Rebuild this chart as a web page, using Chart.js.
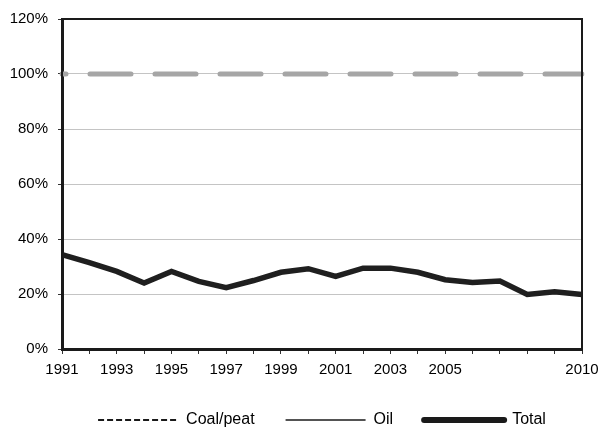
<!DOCTYPE html>
<html>
<head>
<meta charset="utf-8">
<script src="https://cdn.jsdelivr.net/npm/chart.js@4"></script>
<style>
    html, body { margin: 0; padding: 0; background: #fff; }
    #wrap { width: 599px; height: 433px; }
</style>
</head>
<body>
<div id="wrap"><canvas id="lineChart"></canvas></div>
<script>
// Dados
const years = [1991, 1992, 1993, 1994, 1995, 1996, 1997, 1998, 1999, 2000,
               2001, 2002, 2003, 2004, 2005, 2006, 2007, 2008, 2009, 2010];
const labelledYears = [1991, 1993, 1995, 1997, 1999, 2001, 2003, 2005, 2010];
const coalPeat = [100, 100, 100, 100, 100, 100, 100, 100, 100, 100,
                  100, 100, 100, 100, 100, 100, 100, 100, 100, 100];
const oil = [0, 0, 0, 0, 0, 0, 0, 0, 0, 0,
             0, 0, 0, 0, 0, 0, 0, 0, 0, 0];
const total = [34.3, 31.4, 28.2, 24.0, 28.2, 24.6, 22.3, 24.9, 27.9, 29.2,
               26.4, 29.4, 29.4, 27.9, 25.2, 24.2, 24.7, 19.8, 20.8, 19.8];
const yMax = 120;
const yStep = 20;

const font = { family: 'Arial, "Liberation Sans", sans-serif', size: 15 };
const legendFont = { family: 'Arial, "Liberation Sans", sans-serif', size: 16 };

// moldura superior/direita
const frame = {
    id: 'frame',
    afterDatasetsDraw(chart) {
        const { ctx, chartArea: a } = chart;
        ctx.save();
        ctx.strokeStyle = '#1a1a1a';
        ctx.lineWidth = 2;
        ctx.strokeRect(a.left, a.top, a.right - a.left, a.bottom - a.top);
        ctx.restore();
    }
};

// aparência da legenda (amostras pretas)
const legendStyle = [
    { lineWidth: 2, lineDash: [6, 3], lineCap: 'butt' },
    { lineWidth: 1.5, lineDash: [], lineCap: 'butt' },
    { lineWidth: 6, lineDash: [], lineCap: 'round' }
];

new Chart(document.getElementById('lineChart'), {
    type: 'line',
    data: {
        labels: years.map(String),
        datasets: [
            {
                label: 'Coal/peat',
                data: coalPeat,
                borderColor: '#a6a6a6',
                borderWidth: 5,
                borderDash: [41, 24],
                borderDashOffset: 37,
                borderCapStyle: 'round',
                pointRadius: 0,
                tension: 0
            },
            {
                label: 'Oil',
                data: oil,
                borderColor: '#000',
                borderWidth: 1.5,
                pointRadius: 0,
                tension: 0
            },
            {
                label: 'Total',
                data: total,
                borderColor: '#1f1f1f',
                borderWidth: 5.5,
                borderJoinStyle: 'miter',
                pointRadius: 0,
                tension: 0
            }
        ]
    },
    options: {
        responsive: true,
        maintainAspectRatio: false,
        animation: false,
        layout: { padding: { left: 0, top: 17, right: 0, bottom: 0 } },
        plugins: {
            tooltip: { enabled: false },
            legend: {
                position: 'bottom',
                fullSize: false,
                maxHeight: 52,
                labels: {
                    usePointStyle: true,
                    pointStyle: 'line',
                    pointStyleWidth: 80,
                    padding: 31,
                    color: '#000',
                    font: legendFont,
                    generateLabels(chart) {
                        return chart.data.datasets.map((ds, i) => ({
                            text: ds.label,
                            datasetIndex: i,
                            strokeStyle: '#1a1a1a',
                            fillStyle: '#1a1a1a',
                            lineWidth: legendStyle[i].lineWidth,
                            lineDash: legendStyle[i].lineDash,
                            lineCap: legendStyle[i].lineCap,
                            pointStyle: 'line',
                            hidden: false,
                            fontColor: '#000'
                        }));
                    }
                }
            }
        },
        scales: {
            x: {
                type: 'category',
                offset: false,
                afterFit(scale) {
                    scale.height = 32;
                    scale.paddingRight = 17;
                },
                border: { color: '#1a1a1a', width: 3 },
                grid: {
                    drawOnChartArea: false,
                    drawTicks: true,
                    tickLength: 5,
                    tickColor: '#333'
                },
                ticks: {
                    autoSkip: false,
                    maxRotation: 0,
                    padding: 7,
                    color: '#000',
                    font: font,
                    callback(value, index) {
                        const y = years[index];
                        return labelledYears.includes(y) ? String(y) : '';
                    }
                }
            },
            y: {
                min: 0,
                max: yMax,
                afterFit(scale) { scale.width = 62; },
                border: { color: '#1a1a1a', width: 3 },
                grid: {
                    color: '#c4c4c4',
                    lineWidth: 1,
                    tickLength: 4,
                    tickColor: '#333'
                },
                ticks: {
                    stepSize: yStep,
                    padding: 10,
                    color: '#000',
                    font: font,
                    callback: v => v + '%'
                }
            }
        }
    },
    plugins: [frame]
});
</script>
</body>
</html>
